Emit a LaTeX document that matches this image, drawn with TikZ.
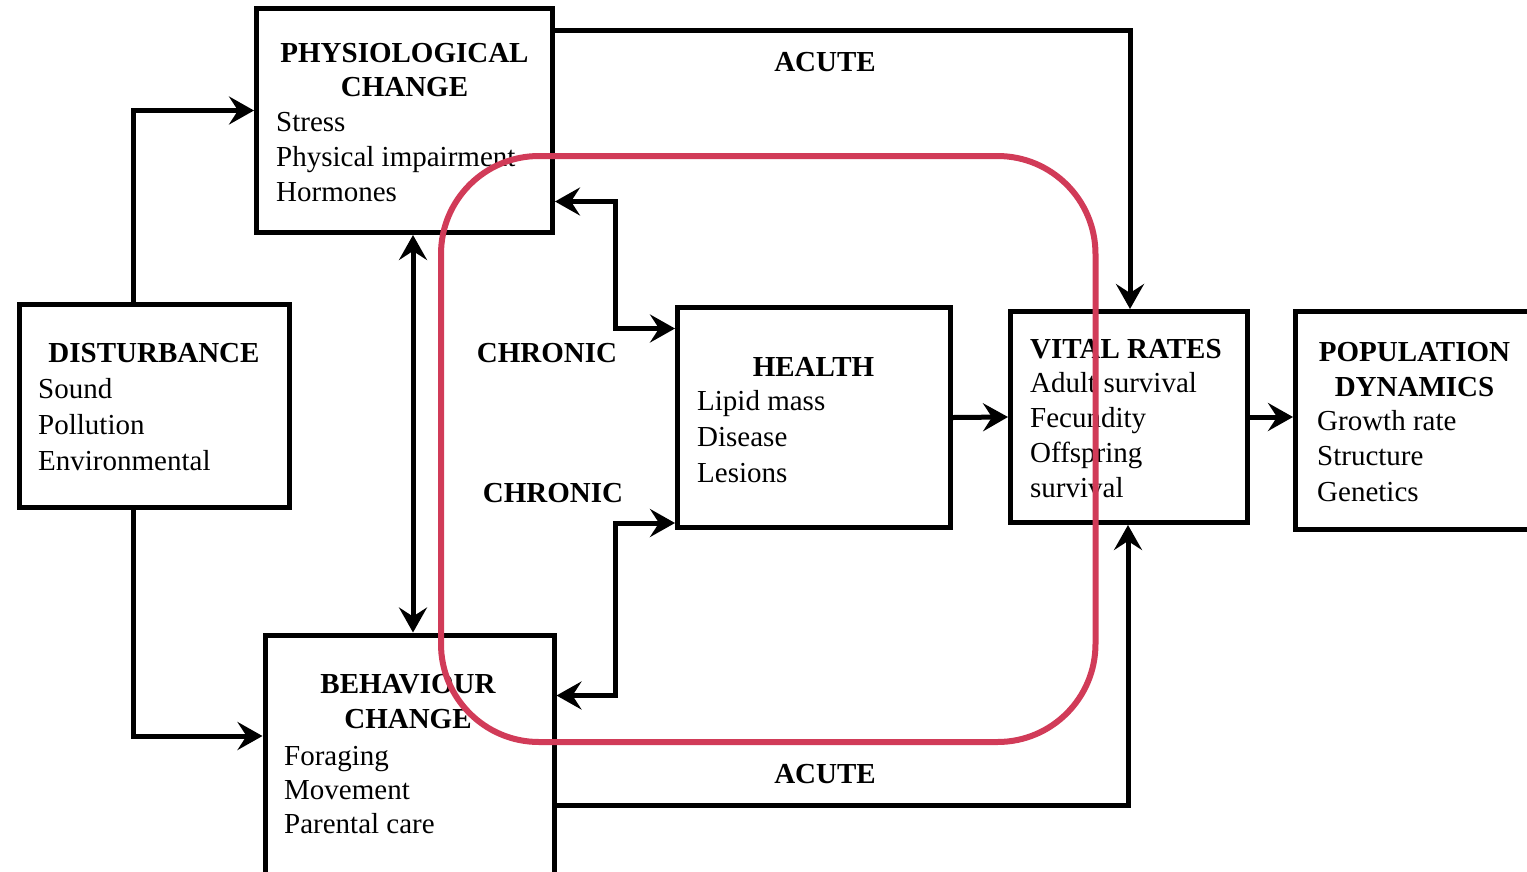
\documentclass[tikz,border=0pt]{standalone}
\usepackage{fontspec}
\setmainfont{Liberation Serif}
\usetikzlibrary{arrows.meta,calc}
\definecolor{loopred}{RGB}{209,59,88}
\newcommand\bigfont{\fontsize{29}{35}\selectfont}
% one left-aligned node per body line: prefix, x, first baseline, step, lines
\newcommand\bodylines[5]{%
  \foreach \t [count=\i] in {#5}
    \node[body] (#1-\i) at (#2, {#3+#4*(\i-1)}) {\t};}
\begin{document}
\begin{tikzpicture}[x=1pt,y=-1pt,
  box/.style={draw, line width=5pt, rectangle, inner sep=0pt},
  head/.style={font=\bigfont\bfseries, inner sep=0pt, anchor=base},
  headl/.style={font=\bigfont\bfseries, inner sep=0pt, anchor=base west},
  body/.style={font=\bigfont, inner sep=0pt, anchor=base west},
  tip/.tip={Stealth[length=25pt,width=28pt,inset=9pt]},
  arr/.style={line width=5pt, -tip},
  arrb/.style={line width=5pt, tip-tip},
  ring/.style={draw=loopred, line width=6pt, rounded corners=98pt}]
\useasboundingbox (0,0) rectangle (1527,871);
\clip (0,0) rectangle (1527,871);

% boxes
\node[box, minimum width=296pt, minimum height=224pt] (phys) at (404.5,120.5) {};
\node[box, minimum width=269.5pt, minimum height=203pt] (dist) at (154.25,406) {};
\node[box, minimum width=273pt, minimum height=220pt] (health) at (814,417.5) {};
\node[box, minimum width=236.5pt, minimum height=211pt] (vital) at (1128.75,417) {};
\node[box, minimum width=237.5pt, minimum height=218pt] (pop) at (1414.25,420.5) {};
\node[box, minimum width=289pt, minimum height=245pt] (behav) at (409.5,757.5) {};

% box texts
\node[head] (phys-h1) at (404.5,62) {PHYSIOLOGICAL};
\node[head] (phys-h2) at (404.5,96.7) {CHANGE};
\bodylines{phys}{276}{131.7}{35}{Stress,Physical impairment,Hormones}

\node[head] (dist-h) at (154,362.7) {DISTURBANCE};
\bodylines{dist}{38}{398}{36}{Sound,Pollution,Environmental}

\node[head] (health-h) at (813.5,376) {HEALTH};
\bodylines{health}{697}{410}{36.3}{Lipid mass,Disease,Lesions}

\node[headl] (vital-h) at (1030,358) {VITAL RATES};
\bodylines{vital}{1030}{392.7}{35}{Adult survival,Fecundity,Offspring,survival}

\node[head] (pop-h1) at (1414.5,361.7) {POPULATION};
\node[head] (pop-h2) at (1414.5,396) {DYNAMICS};
\bodylines{pop}{1317}{430}{35.5}{Growth rate,Structure,Genetics}

\node[head] (behav-h1) at (408,693) {BEHAVIOUR};
\node[head] (behav-h2) at (408,728) {CHANGE};
\bodylines{behav}{284}{765}{34}{Foraging,Movement,Parental care}

% connector labels
\node[head] (acute-top) at (825,71.5) {ACUTE};
\node[head] (acute-bot) at (825,783.5) {ACUTE};
\node[head] (chronic-up) at (547,362.5) {CHRONIC};
\node[head] (chronic-lo) at (553,502.5) {CHRONIC};

% bend points
\coordinate (pb) at ([xshift=8.5pt]phys.south);
\coordinate (ch1) at (615.5,265);
\coordinate (ch2) at (615,610);

% connectors
\draw[arr] ([xshift=-21.25pt]dist.north) |- ([yshift=10pt]phys.west);
\draw[arr] ([xshift=-21.25pt]dist.south) |- ([yshift=21.5pt]behav.west);
\draw[arrb] (pb) -- (pb |- behav.north);
\draw[arr] ([yshift=90.5pt]phys.east) -| ([xshift=1.25pt]vital.north);
\draw[arr] ([yshift=-48pt]behav.east) -| ([xshift=-0.75pt]vital.south);
\draw[arrb] ([yshift=-81pt]phys.east) -| (ch1) |- ([yshift=89pt]health.west);
\draw[arrb] ([yshift=62pt]behav.east) -| (ch2) |- ([yshift=-105.5pt]health.west);
\draw[arr] (health.east) -- (vital.west);
\draw[arr] (vital.east) -- (vital.east -| pop.west);

% chronic loop outline
\draw[ring] (441,156) rectangle (1095.5,742);
\end{tikzpicture}
\end{document}
